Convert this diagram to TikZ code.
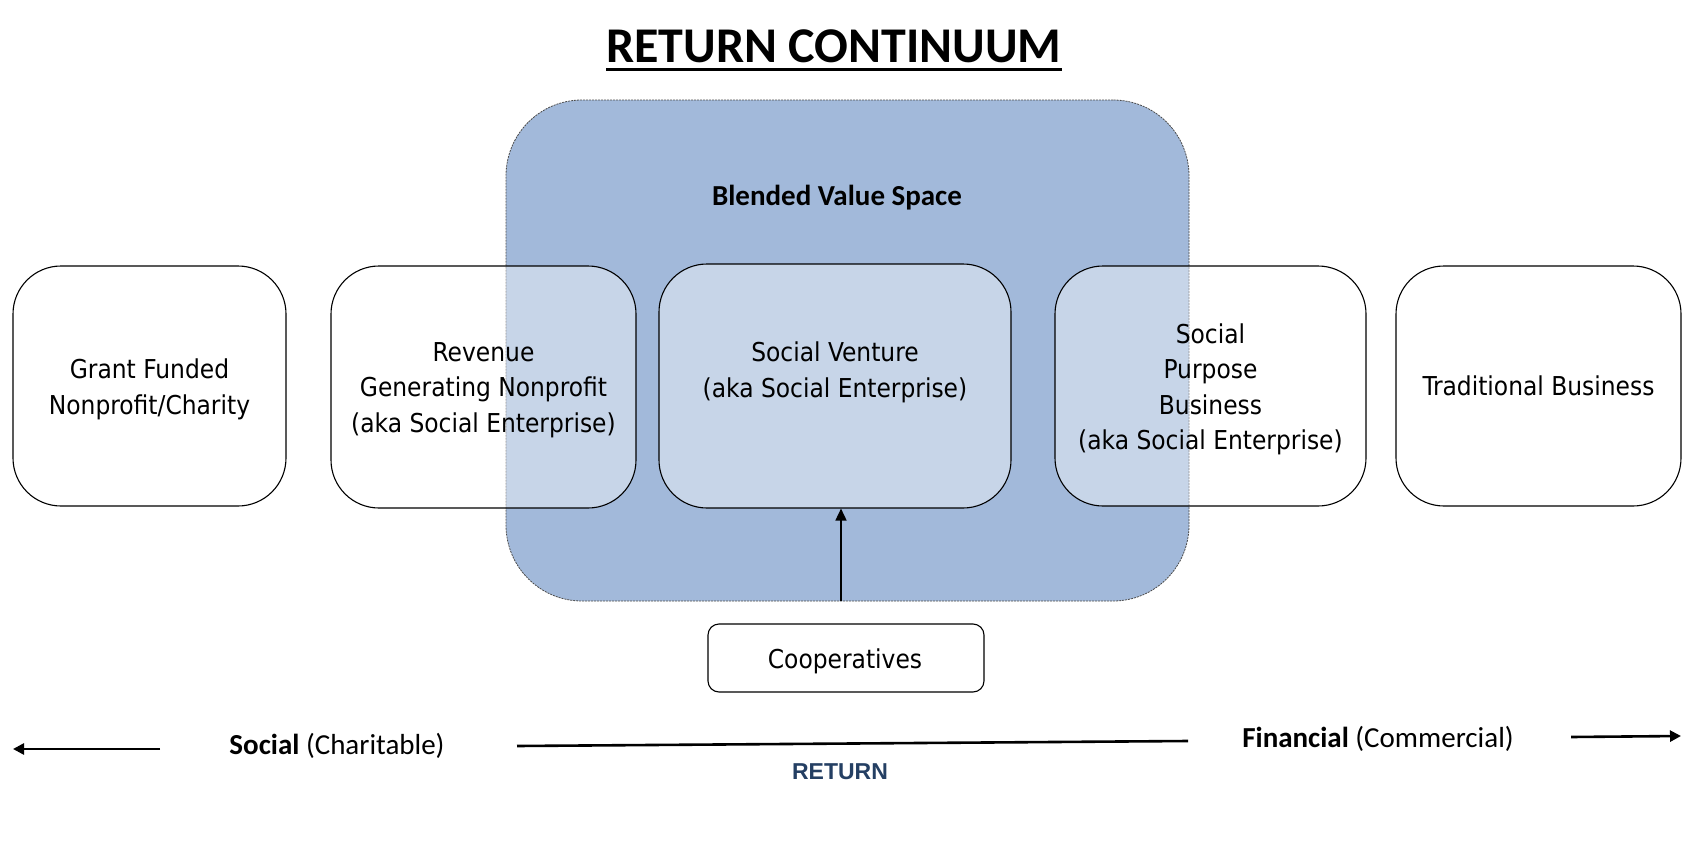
\documentclass[tikz,border=0pt]{standalone}
\usepackage{fontspec}
\setmainfont{DejaVu Sans Condensed}
\newfontfamily\calfont{Carlito}
\newfontfamily\arialfont{Liberation Sans}
\usetikzlibrary{arrows.meta}
\definecolor{blendblue}{HTML}{A2B9DA}
\definecolor{returnblue}{HTML}{243F63}
\begin{document}
\begin{tikzpicture}[x=1pt,y=-1pt,
  card/.style={draw=black, line width=1.1pt, rounded corners=48pt, fill=white, fill opacity=0.4, text opacity=1,
    inner sep=0pt},
  boxtext/.style={inner sep=0pt, align=center, font=\fontsize{26}{35.5}\selectfont},
  bottomlbl/.style={inner sep=0pt, font=\calfont\fontsize{29}{34}\selectfont},
  axisline/.style={line width=2.6pt, draw=black},
  axisarrow/.style={line width=2.6pt, draw=black, -{Triangle[width=11pt,length=11pt]}}
]
\useasboundingbox (0,0) rectangle (1695,867);

% title
\node[inner sep=0pt, anchor=base, font=\calfont\bfseries\fontsize{50}{56}\selectfont] (title) at (834,63) {RETURN CONTINUUM};
\draw[line width=3pt] ([yshift=-6.5pt]title.base west) -- ([yshift=-6.5pt]title.base east);

% blended value space
\node[draw=black!70, dash pattern=on 2pt off 1pt, line width=0.8pt, fill=blendblue, rounded corners=76pt,
  minimum width=683pt, minimum height=501pt, inner sep=0pt] (blend) at (847.5,350.5) {};
\node[inner sep=0pt, font=\calfont\bfseries\fontsize{29}{34}\selectfont] (blendtext) at (837,198) {Blended Value Space};

% cards
\node[card, minimum width=273pt, minimum height=240pt] (grant) at (149.5,386) {};
\node[boxtext] (granttext) at (149.5,389.5) {Grant Funded\\Nonprofit/Charity};
\node[card, minimum width=305pt, minimum height=242pt] (rev) at (483.5,387) {};
\node[boxtext] (revtext) at (483.5,390) {Revenue\\Generating Nonprofit\\(aka Social Enterprise)};
\node[card, minimum width=352pt, minimum height=244pt] (sv) at (835,386) {};
\node[boxtext] (svtext) at (835,372.2) {Social Venture\\(aka Social Enterprise)};
\node[card, minimum width=311pt, minimum height=240pt] (sp) at (1210.5,386) {};
\node[boxtext] (sptext) at (1210.5,389.5) {Social\\Purpose\\Business\\(aka Social Enterprise)};
\node[card, minimum width=285pt, minimum height=240pt] (trad) at (1538.5,386) {};
\node[boxtext] (tradtext) at (1538.5,385.6) {Traditional Business};

% cooperatives
\node[card, rounded corners=11pt, minimum width=276pt, minimum height=68pt] (coop) at (846,658) {};
\node[boxtext] (cooptext) at (845,661) {Cooperatives};
\coordinate (arrowstart) at (841,601);
\draw[line width=1.6pt, -{Triangle[width=11pt,length=12pt]}] (arrowstart) -- (arrowstart |- sv.south);

% bottom axis
\node[bottomlbl] (social) at (337,746) {{\bfseries Social} (Charitable)};
\node[bottomlbl] (financial) at (1378,739) {{\bfseries Financial} (Commercial)};
\node[inner sep=0pt, font=\arialfont\bfseries\fontsize{23}{28}\selectfont, text=returnblue] (return) at (840,772) {RETURN};
\coordinate (la1) at (160,749);
\coordinate (la2) at (13,749);
\coordinate (m1) at (517,746);
\coordinate (m2) at (1188,741);
\coordinate (ra1) at (1571,737);
\coordinate (ra2) at (1681,736);
\draw[axisarrow] (la1) -- (la2);
\draw[axisline] (m1) -- (m2);
\draw[axisarrow] (ra1) -- (ra2);
\end{tikzpicture}
\end{document}
